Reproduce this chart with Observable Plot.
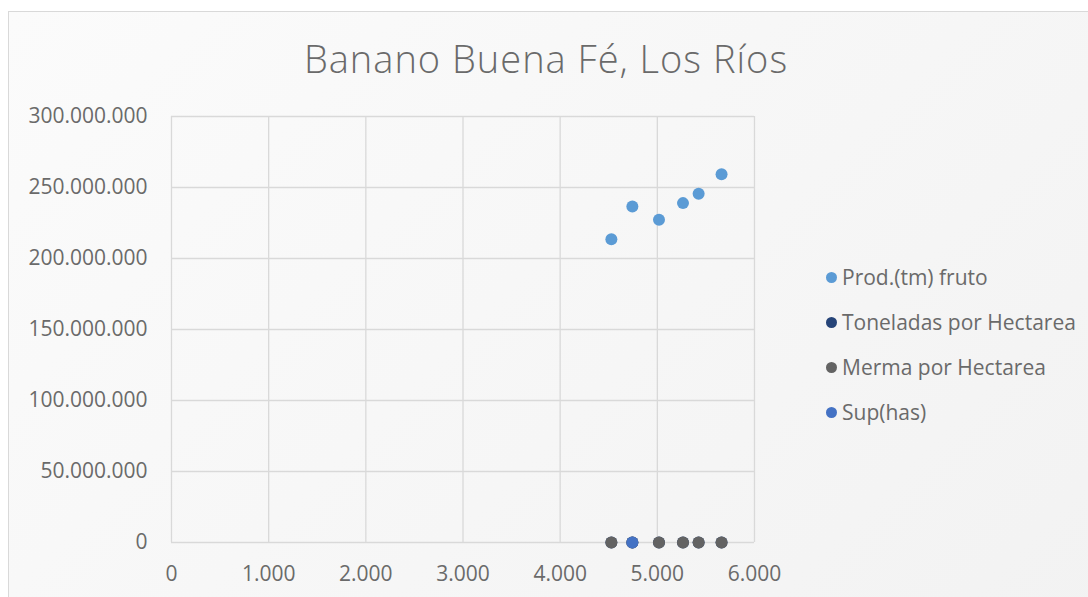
<!DOCTYPE html>
<html>
<head>
<meta charset="utf-8">
<script src="https://cdn.jsdelivr.net/npm/d3@7"></script>
<script src="https://cdn.jsdelivr.net/npm/@observablehq/plot@0.6"></script>
<style>
  html, body { margin: 0; padding: 0; background: #ffffff; }
  #wrap { position: relative; width: 1088px; height: 597px; overflow: hidden; background: #ffffff; font-family: "Open Sans", sans-serif; }
  #area { position: absolute; left: 8px; top: 11px; width: 1120px; height: 620px; border: 1px solid #d9d9d9; box-sizing: border-box;
          background: linear-gradient(135deg, #fbfbfb 0%, #f2f2f2 100%); }
  #plot { position: absolute; left: 0; top: 0; }
  #title { position: absolute; left: 0; top: 39px; width: 1092px; text-align: center; font-size: 38px; line-height: 1; color: #6a6a6a; font-weight: 300; letter-spacing: 1px; }
  .leg { position: absolute; left: 826px; font-size: 21px; line-height: 1; color: #6a6a6a; white-space: nowrap; }
  .leg span.m { position: absolute; left: 0; width: 11px; height: 11px; border-radius: 50%; top: 5px; }
  .leg span.t { position: absolute; left: 16px; top: 0; }
</style>
</head>
<body>
<div id="wrap">
  <div id="area"></div>
  <div id="plot"></div>
  <div id="title">Banano Buena Fé, Los Ríos</div>
  <div id="legend"></div>
</div>
<script>
// Data
const seriesNames = ["Prod.(tm) fruto", "Toneladas por Hectarea", "Merma por Hectarea", "Sup(has)"];
const seriesColors = ["#5B9BD5", "#264478", "#636363", "#4472C4"];
const supHas = [4527, 4743, 5017, 5264, 5425, 5661];          // x values
const prodFruto = [213600000, 236600000, 227300000, 239000000, 245600000, 259400000];
const toneladasPorHa = [47, 50, 45, 45, 45, 46];
const mermaPorHa = [2, 2, 2, 2, 2, 2];
const supX = [4743];
const supY = [4743];
const xTicks = [0, 1000, 2000, 3000, 4000, 5000, 6000];
const yTicks = [0, 50000000, 100000000, 150000000, 200000000, 250000000, 300000000];

const loc = d3.formatLocale({decimal: ",", thousands: ".", grouping: [3], currency: ["", ""]});
const fmt = loc.format(",d");

const rows = [];
supHas.forEach((x, i) => rows.push({s: seriesNames[0], x, y: prodFruto[i]}));
supHas.forEach((x, i) => rows.push({s: seriesNames[1], x, y: toneladasPorHa[i]}));
supHas.forEach((x, i) => rows.push({s: seriesNames[2], x, y: mermaPorHa[i]}));
supX.forEach((x, i) => rows.push({s: seriesNames[3], x, y: supY[i]}));

const chart = Plot.plot({
  width: 1088,
  height: 597,
  marginLeft: 171,
  marginRight: 334,
  marginTop: 116,
  marginBottom: 55,
  style: {background: "transparent", fontFamily: "Open Sans, sans-serif", fontSize: "21px", color: "#6a6a6a"},
  x: {domain: [0, 6000]},
  y: {domain: [0, 300000000]},
  color: {domain: seriesNames, range: seriesColors},
  marks: [
    Plot.gridX(xTicks, {stroke: "#d9d9d9", strokeOpacity: 1, strokeWidth: 1.3}),
    Plot.gridY(yTicks, {stroke: "#d9d9d9", strokeOpacity: 1, strokeWidth: 1.3}),
    Plot.axisX(xTicks, {tickSize: 0, tickPadding: 24, tickFormat: fmt, label: null, fill: "#6a6a6a", fontSize: 21}),
    Plot.axisY(yTicks, {tickSize: 0, tickPadding: 24, tickFormat: fmt, label: null, fill: "#6a6a6a", fontSize: 21}),
    Plot.dot(rows, {x: "x", y: "y", fill: "s", r: 6, stroke: "none"})
  ]
});
document.getElementById("plot").appendChild(chart);

const legend = document.getElementById("legend");
const legTops = [267, 312, 357, 402];
seriesNames.forEach((name, i) => {
  const d = document.createElement("div");
  d.className = "leg";
  d.style.top = legTops[i] + "px";
  d.innerHTML = `<span class="m" style="background:${seriesColors[i]}"></span><span class="t">${name}</span>`;
  legend.appendChild(d);
});
</script>
</body>
</html>
